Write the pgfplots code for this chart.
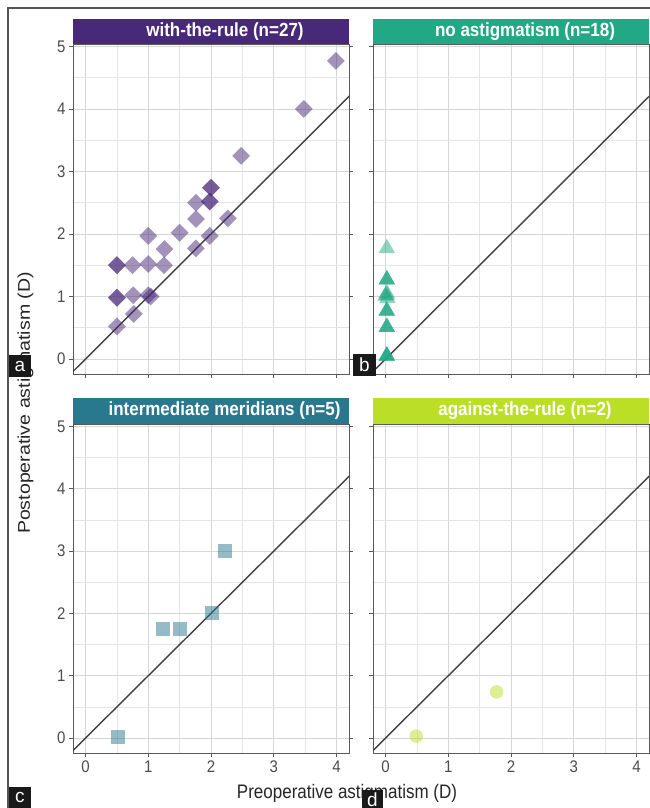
\documentclass[border=0pt]{standalone}
\usepackage{fontspec}
\setmainfont{Liberation Sans}
\usepackage{pgfplots}
\pgfplotsset{compat=1.18}
\definecolor{cwtr}{HTML}{482878}
\definecolor{cno}{HTML}{22A884}
\definecolor{cint}{HTML}{2A788E}
\definecolor{catr}{HTML}{BBDF27}
\definecolor{frame}{HTML}{555555}
\pgfplotsset{
  panel/.style={
    scale only axis, width=276pt, height=330pt,
    xmin=-0.2, xmax=4.2, ymin=-0.24, ymax=5.04,
    xtick={0,1,2,3,4}, ytick={0,1,2,3,4,5},
    minor xtick={0.5,1.5,2.5,3.5}, minor ytick={0.5,1.5,2.5,3.5,4.5},
    grid=both,
    major grid style={color=black!16, line width=0.8pt},
    minor grid style={color=black!10, line width=0.6pt},
    axis line style={color=black!65, line width=0.9pt},
    tick align=outside, major tick length=4pt, minor tick length=0pt,
    tick style={color=black!65, line width=0.8pt},
    /pgf/number format/assume math mode=true,
    ticklabel style={font=\fontsize{15}{15}\selectfont, text=black!70, yscale=1.12},
    clip=true,
  },
  idline/.style={color=black!75, line width=1.4pt, no markers},
}
\pgfplotstableread{
x y
0.5 1.5
0.5 1.5
0.75 1.5
1 1.52
1.25 1.5
0.5 0.98
0.5 0.98
0.76 1.02
1 1.02
1.04 1.0
0.5 0.52
0.77 0.72
1 1.97
1.26 1.76
1.5 2.02
1.76 2.5
1.76 2.24
1.76 1.77
2 2.74
2 2.74
1.98 2.52
1.98 2.52
1.98 1.97
2.27 2.25
2.48 3.25
3.48 4.0
3.99 4.77
}\wtr
\pgfplotstableread{
x y
0.02 1.77
0.02 1.27
0.02 1.27
0.02 1.27
0.02 1.05
0.00 1.01
0.03 0.97
0.02 1.02
0.02 0.77
0.02 0.77
0.02 0.77
0.02 0.51
0.02 0.51
0.02 0.51
0.02 0.05
0.02 0.05
0.02 0.05
0.02 0.05
}\noast
\pgfplotstableread{
x y
0.52 0.02
1.24 1.75
1.51 1.75
2.02 2.01
2.23 3.0
}\inter
\pgfplotstableread{
x y
0.49 0.03
1.77 0.74
}\atr
\begin{document}
\begin{tikzpicture}
\path[use as bounding box] (0pt,0pt) rectangle (649pt,808pt);
% frame
\draw[frame, line width=1.3pt] (8pt,0pt) -- (8pt,800pt) -- (652pt,800pt);
% panel a
\begin{axis}[panel, at={(73pt,434pt)}, anchor=south west, xticklabels={}]
\addplot[idline] coordinates {(-0.4,-0.4) (4.4,4.4)};
\addplot[only marks, color=cwtr, mark=square*, mark size=6.3pt, mark options={rotate=45, fill=cwtr, draw opacity=0, fill opacity=0.5}] table {\wtr};
\end{axis}
% panel b
\begin{axis}[panel, at={(373pt,434pt)}, anchor=south west, xticklabels={}, yticklabels={}]
\addplot[idline] coordinates {(-0.4,-0.4) (4.4,4.4)};
\addplot[only marks, color=cno, mark=triangle*, mark size=9.5pt, mark options={fill=cno, draw opacity=0, fill opacity=0.5}] table {\noast};
\end{axis}
% panel c
\begin{axis}[panel, at={(73pt,55pt)}, anchor=south west, height=329pt]
\addplot[idline] coordinates {(-0.4,-0.4) (4.4,4.4)};
\addplot[only marks, color=cint, mark=square*, mark size=7pt, mark options={fill=cint, draw opacity=0, fill opacity=0.5}] table {\inter};
\end{axis}
% panel d
\begin{axis}[panel, at={(373pt,55pt)}, anchor=south west, height=329pt, yticklabels={}]
\addplot[idline] coordinates {(-0.4,-0.4) (4.4,4.4)};
\addplot[only marks, color=catr, mark=*, mark size=6.8pt, mark options={fill=catr, draw opacity=0, fill opacity=0.5}] table {\atr};
\end{axis}
% strips
\fill[cwtr] (73pt,764pt) rectangle (349pt,789pt);
\fill[cno] (373pt,764pt) rectangle (649pt,789pt);
\fill[cint] (73pt,384pt) rectangle (349pt,410pt);
\fill[catr] (373pt,384pt) rectangle (649pt,410pt);
\node[text=white, font=\fontsize{17}{17}\selectfont\bfseries, inner sep=0pt] at (225pt,776.5pt) {\scalebox{1}[1.12]{with-the-rule (n=27)}};
\node[text=white, font=\fontsize{17}{17}\selectfont\bfseries, inner sep=0pt] at (525pt,776.5pt) {\scalebox{1}[1.12]{no astigmatism (n=18)}};
\node[text=white, font=\fontsize{17}{17}\selectfont\bfseries, inner sep=0pt] at (224.5pt,397pt) {\scalebox{1}[1.12]{intermediate meridians (n=5)}};
\node[text=white, font=\fontsize{17}{17}\selectfont\bfseries, inner sep=0pt] at (525pt,397pt) {\scalebox{1}[1.12]{against-the-rule (n=2)}};
% axis titles
\node[text=black!85, font=\fontsize{17}{17}\selectfont, inner sep=0pt] at (347pt,15pt) {\scalebox{1}[1.15]{Preoperative astigmatism (D)}};
\node[text=black!85, font=\fontsize{17}{17}\selectfont, inner sep=0pt, rotate=90] at (25.5pt,405pt) {\scalebox{1.15}[1]{Postoperative astigmatism (D)}};
% corner labels
\fill[black!90] (9pt,431pt) rectangle (31pt,453pt);
\node[text=white, font=\fontsize{19}{19}\selectfont] at (20pt,442pt) {a};
\fill[black!90] (353pt,432pt) rectangle (376pt,454pt);
\node[text=white, font=\fontsize{19}{19}\selectfont] at (364.5pt,443pt) {b};
\fill[black!90] (9pt,0pt) rectangle (31pt,21pt);
\node[text=white, font=\fontsize{19}{19}\selectfont] at (20pt,10.5pt) {c};
\fill[black!90] (362pt,0pt) rectangle (383pt,18pt);
\node[text=white, font=\fontsize{19}{19}\selectfont] at (372.5pt,8pt) {d};
\end{tikzpicture}
\end{document}
